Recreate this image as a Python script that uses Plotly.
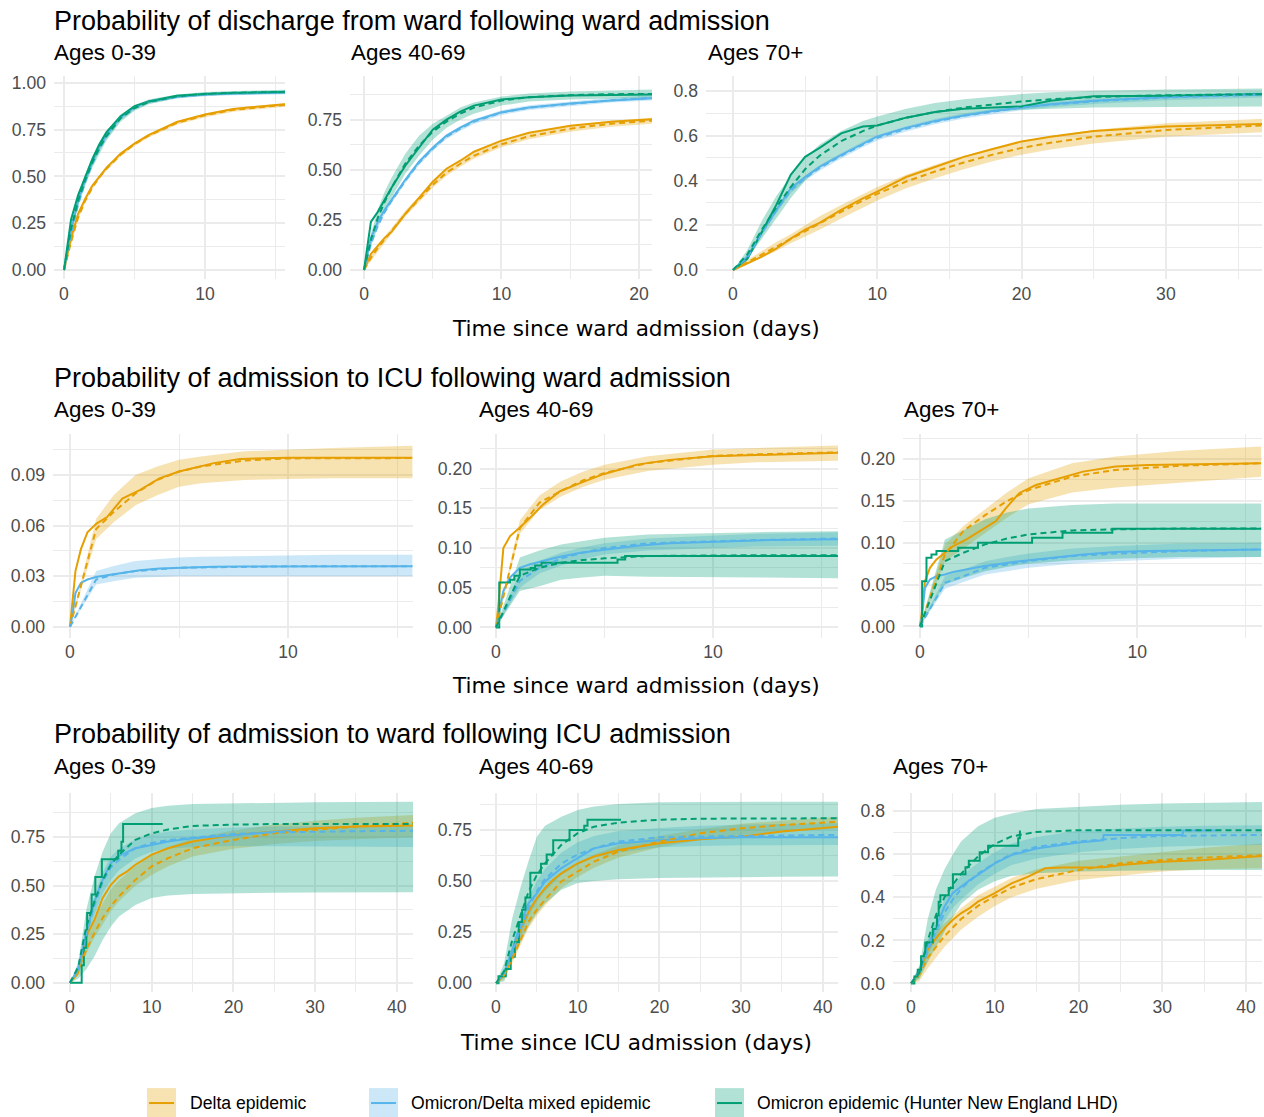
import plotly.graph_objects as go

# ---------------- colours ----------------
DELTA = "#E69F00"
MIXED = "#56B4E9"
OMI = "#009E73"
FILL = {DELTA: "rgba(230,159,0,0.3)", MIXED: "rgba(86,180,233,0.3)", OMI: "rgba(0,158,115,0.3)"}

# ---------------- text ----------------
row_titles = ["Probability of discharge from ward following ward admission",
              "Probability of admission to ICU following ward admission",
              "Probability of admission to ward following ICU admission"]
age_labels = ["Ages 0-39", "Ages 40-69", "Ages 70+"]
x_titles = ["Time since ward admission (days)", "Time since ward admission (days)",
            "Time since ICU admission (days)"]
legend_labels = ["Delta epidemic", "Omicron/Delta mixed epidemic",
                 "Omicron epidemic (Hunter New England LHD)"]

# ================= DATA =================
# ---- Row 1, discharge from ward, ages 0-39 ----
t_dis_a = [0, 0.5, 1, 1.5, 2, 2.5, 3, 4, 5, 6, 8, 10, 12, 15.7]
dis_a_delta_obs = [0, 0.17, 0.30, 0.38, 0.45, 0.50, 0.545, 0.62, 0.675, 0.72, 0.79, 0.83, 0.86, 0.885]
dis_a_delta_fit = [0, 0.15, 0.28, 0.37, 0.44, 0.495, 0.54, 0.615, 0.672, 0.717, 0.785, 0.826, 0.855, 0.882]
dis_a_delta_lo = [0, 0.14, 0.27, 0.36, 0.43, 0.485, 0.53, 0.605, 0.662, 0.707, 0.775, 0.816, 0.845, 0.872]
dis_a_delta_hi = [0, 0.16, 0.29, 0.38, 0.45, 0.505, 0.55, 0.625, 0.682, 0.727, 0.795, 0.836, 0.865, 0.892]
dis_a_mixed_obs = [0, 0.21, 0.37, 0.48, 0.575, 0.655, 0.72, 0.815, 0.87, 0.9, 0.925, 0.937, 0.942, 0.947]
dis_a_mixed_fit = [0, 0.19, 0.35, 0.47, 0.565, 0.645, 0.71, 0.81, 0.865, 0.897, 0.925, 0.937, 0.943, 0.948]
dis_a_mixed_lo = [0, 0.18, 0.34, 0.46, 0.555, 0.635, 0.70, 0.80, 0.855, 0.887, 0.915, 0.927, 0.933, 0.938]
dis_a_mixed_hi = [0, 0.20, 0.36, 0.48, 0.575, 0.655, 0.72, 0.82, 0.875, 0.907, 0.935, 0.947, 0.953, 0.958]
dis_a_omi_obs = [0, 0.27, 0.40, 0.50, 0.59, 0.67, 0.735, 0.82, 0.875, 0.9, 0.93, 0.94, 0.945, 0.95]
dis_a_omi_fit = [0, 0.22, 0.37, 0.48, 0.575, 0.65, 0.715, 0.81, 0.865, 0.897, 0.927, 0.94, 0.946, 0.951]
dis_a_omi_lo = [0, 0.19, 0.34, 0.45, 0.545, 0.62, 0.69, 0.79, 0.85, 0.885, 0.917, 0.93, 0.936, 0.94]
dis_a_omi_hi = [0, 0.25, 0.40, 0.51, 0.605, 0.68, 0.74, 0.83, 0.88, 0.91, 0.937, 0.95, 0.956, 0.962]

# ---- Row 1, discharge from ward, ages 40-69 ----
t_dis_b = [0, 0.5, 1, 1.5, 2, 3, 4, 5, 6, 7, 8, 10, 12, 15, 18, 20.95]
dis_b_delta_obs = [0, 0.08, 0.12, 0.16, 0.19, 0.28, 0.36, 0.44, 0.505, 0.545, 0.59, 0.645, 0.685, 0.72, 0.74, 0.752]
dis_b_delta_fit = [0, 0.06, 0.11, 0.155, 0.195, 0.28, 0.355, 0.425, 0.485, 0.53, 0.57, 0.627, 0.667, 0.705, 0.73, 0.745]
dis_b_delta_lo = [0, 0.045, 0.095, 0.14, 0.18, 0.265, 0.34, 0.41, 0.47, 0.515, 0.555, 0.612, 0.652, 0.69, 0.715, 0.73]
dis_b_delta_hi = [0, 0.075, 0.125, 0.17, 0.21, 0.295, 0.37, 0.44, 0.50, 0.545, 0.585, 0.642, 0.682, 0.72, 0.745, 0.76]
dis_b_mixed_obs = [0, 0.16, 0.24, 0.30, 0.35, 0.45, 0.54, 0.61, 0.67, 0.71, 0.745, 0.787, 0.81, 0.83, 0.845, 0.857]
dis_b_mixed_fit = [0, 0.13, 0.22, 0.29, 0.345, 0.445, 0.535, 0.605, 0.665, 0.705, 0.74, 0.785, 0.81, 0.83, 0.847, 0.858]
dis_b_mixed_lo = [0, 0.118, 0.208, 0.278, 0.333, 0.433, 0.523, 0.593, 0.653, 0.693, 0.728, 0.773, 0.798, 0.818, 0.835, 0.846]
dis_b_mixed_hi = [0, 0.142, 0.232, 0.302, 0.357, 0.457, 0.547, 0.617, 0.677, 0.717, 0.752, 0.797, 0.822, 0.842, 0.859, 0.87]
dis_b_omi_obs = [0, 0.24, 0.29, 0.35, 0.41, 0.52, 0.61, 0.70, 0.75, 0.79, 0.82, 0.85, 0.862, 0.87, 0.873, 0.875]
dis_b_omi_fit = [0, 0.15, 0.26, 0.34, 0.41, 0.53, 0.62, 0.69, 0.74, 0.78, 0.81, 0.845, 0.862, 0.872, 0.877, 0.878]
dis_b_omi_lo = [0, 0.12, 0.22, 0.30, 0.36, 0.48, 0.57, 0.65, 0.71, 0.75, 0.78, 0.82, 0.84, 0.85, 0.855, 0.855]
dis_b_omi_hi = [0, 0.18, 0.30, 0.39, 0.46, 0.58, 0.67, 0.73, 0.77, 0.81, 0.835, 0.865, 0.88, 0.89, 0.895, 0.9]

# ---- Row 1, discharge from ward, ages 70+ ----
t_dis_c = [0, 1, 2, 3, 4, 5, 6, 7.5, 9, 10, 12, 14, 16, 18, 20, 22, 25, 30, 36.7]
dis_c_delta_obs = [0, 0.03, 0.06, 0.095, 0.14, 0.18, 0.21, 0.268, 0.32, 0.35, 0.415, 0.46, 0.505, 0.54, 0.574, 0.595, 0.62, 0.64, 0.652]
dis_c_delta_fit = [0, 0.035, 0.07, 0.105, 0.14, 0.175, 0.21, 0.26, 0.31, 0.34, 0.395, 0.44, 0.48, 0.515, 0.545, 0.568, 0.595, 0.625, 0.645]
dis_c_delta_lo = [0, 0.025, 0.055, 0.085, 0.12, 0.15, 0.18, 0.23, 0.28, 0.31, 0.365, 0.41, 0.45, 0.485, 0.515, 0.538, 0.565, 0.595, 0.615]
dis_c_delta_hi = [0, 0.045, 0.085, 0.125, 0.16, 0.2, 0.24, 0.29, 0.34, 0.37, 0.425, 0.47, 0.51, 0.545, 0.575, 0.598, 0.625, 0.655, 0.675]
dis_c_mixed_obs = [0, 0.06, 0.17, 0.27, 0.365, 0.415, 0.46, 0.514, 0.565, 0.596, 0.635, 0.665, 0.69, 0.71, 0.725, 0.74, 0.755, 0.772, 0.785]
dis_c_mixed_fit = [0, 0.055, 0.165, 0.265, 0.355, 0.41, 0.455, 0.51, 0.56, 0.59, 0.63, 0.662, 0.688, 0.708, 0.725, 0.738, 0.753, 0.77, 0.782]
dis_c_mixed_lo = [0, 0.043, 0.153, 0.253, 0.343, 0.398, 0.443, 0.498, 0.548, 0.578, 0.618, 0.65, 0.676, 0.696, 0.713, 0.726, 0.741, 0.758, 0.77]
dis_c_mixed_hi = [0, 0.067, 0.177, 0.277, 0.367, 0.422, 0.467, 0.522, 0.572, 0.602, 0.642, 0.674, 0.70, 0.72, 0.737, 0.75, 0.765, 0.782, 0.794]
dis_c_omi_obs = [0, 0.05, 0.17, 0.29, 0.425, 0.505, 0.545, 0.61, 0.64, 0.645, 0.68, 0.705, 0.72, 0.725, 0.73, 0.755, 0.775, 0.778, 0.785]
dis_c_omi_fit = [0, 0.07, 0.18, 0.28, 0.37, 0.45, 0.51, 0.575, 0.62, 0.645, 0.68, 0.705, 0.725, 0.74, 0.752, 0.762, 0.772, 0.78, 0.785]
dis_c_omi_lo = [0, 0.05, 0.14, 0.23, 0.32, 0.40, 0.46, 0.52, 0.57, 0.60, 0.64, 0.67, 0.69, 0.705, 0.715, 0.72, 0.725, 0.728, 0.73]
dis_c_omi_hi = [0, 0.09, 0.22, 0.33, 0.42, 0.5, 0.56, 0.62, 0.665, 0.685, 0.72, 0.745, 0.762, 0.775, 0.785, 0.793, 0.8, 0.806, 0.81]

# ---- Row 2, ward -> ICU, ages 0-39 ----
t_icu_a_fit = [0, 1.2, 2, 3, 4, 5, 6, 8, 10, 12, 15.7]
t_icu_a_obs = [0, 0.1, 0.25, 0.5, 0.8, 1.2, 1.7, 2.4, 3.2, 4.1, 5, 6.6, 7.8, 10, 15.7]
icu_a_delta_obs = [0, 0.012, 0.033, 0.046, 0.056, 0.061, 0.065, 0.076, 0.081, 0.088, 0.092, 0.097, 0.0995, 0.1002, 0.1002]
icu_a_delta_fit = [0, 0.058, 0.068, 0.079, 0.087, 0.092, 0.095, 0.0985, 0.0998, 0.1, 0.1]
icu_a_delta_lo = [0, 0.052, 0.062, 0.072, 0.078, 0.083, 0.085, 0.087, 0.0876, 0.088, 0.088]
icu_a_delta_hi = [0, 0.064, 0.078, 0.09, 0.095, 0.099, 0.101, 0.104, 0.105, 0.106, 0.1073]
icu_a_mixed_obs = [0, 0.006, 0.02, 0.026, 0.028, 0.0295, 0.0305, 0.032, 0.0335, 0.0345, 0.035, 0.0355, 0.0357, 0.0358, 0.0358]
icu_a_mixed_fit = [0, 0.028, 0.031, 0.033, 0.034, 0.035, 0.0352, 0.0356, 0.0358, 0.0358, 0.0358]
icu_a_mixed_lo = [0, 0.025, 0.027, 0.029, 0.0295, 0.03, 0.03, 0.03, 0.03, 0.03, 0.03]
icu_a_mixed_hi = [0, 0.033, 0.036, 0.039, 0.040, 0.041, 0.0415, 0.042, 0.0425, 0.0427, 0.0427]

# ---- Row 2, ward -> ICU, ages 40-69 ----
t_icu_b_fit = [0, 1.1, 2, 3, 4, 5, 7, 10, 12, 15.8]
t_icu_b_obs = [0, 0.1, 0.34, 0.65, 1.1, 1.57, 2.18, 2.95, 3.9, 4.95, 6.5, 8, 10, 12.65, 15.8]
t_icu_b_omi_obs = [0, 0.15, 0.65, 0.85, 1.1, 1.6, 1.8, 2.1, 5.6, 5.95, 15.8]
icu_b_delta_obs = [0, 0.025, 0.10, 0.115, 0.126, 0.138, 0.155, 0.1715, 0.182, 0.193, 0.205, 0.211, 0.2155, 0.218, 0.22]
icu_b_delta_fit = [0, 0.125, 0.157, 0.172, 0.185, 0.1945, 0.207, 0.216, 0.218, 0.2205]
icu_b_delta_lo = [0, 0.118, 0.148, 0.165, 0.177, 0.186, 0.197, 0.205, 0.208, 0.21]
icu_b_delta_hi = [0, 0.135, 0.166, 0.184, 0.196, 0.205, 0.2155, 0.224, 0.226, 0.229]
icu_b_mixed_obs = [0, 0.0126, 0.046, 0.063, 0.075, 0.0795, 0.084, 0.089, 0.094, 0.098, 0.103, 0.106, 0.108, 0.11, 0.111]
icu_b_mixed_fit = [0, 0.0586, 0.075, 0.087, 0.094, 0.1, 0.106, 0.1085, 0.11, 0.112]
icu_b_mixed_lo = [0, 0.05, 0.068, 0.078, 0.086, 0.092, 0.097, 0.1, 0.102, 0.103]
icu_b_mixed_hi = [0, 0.07, 0.084, 0.094, 0.101, 0.106, 0.112, 0.116, 0.118, 0.12]
icu_b_omi_obs = [0, 0.0565, 0.060, 0.065, 0.073, 0.075, 0.078, 0.0816, 0.0855, 0.09, 0.09]
icu_b_omi_fit = [0, 0.065, 0.075, 0.0816, 0.085, 0.087, 0.09, 0.091, 0.091, 0.091]
icu_b_omi_lo = [0, 0.046, 0.052, 0.06, 0.063, 0.065, 0.064, 0.063, 0.0625, 0.062]
icu_b_omi_hi = [0, 0.088, 0.097, 0.1046, 0.109, 0.113, 0.117, 0.119, 0.12, 0.121]

# ---- Row 2, ward -> ICU, ages 70+ ----
t_icu_c_fit = [0, 1.15, 2, 3, 4, 5, 7, 9, 12, 15.7]
t_icu_c_obs = [0, 0.08, 0.23, 0.46, 0.76, 1.15, 1.53, 2.14, 2.9, 3.5, 3.97, 4.58, 5.34, 6.4, 7.5, 9, 10.5, 15.7]
t_icu_c_omi_obs = [0, 0.1, 0.3, 0.53, 0.76, 1.76, 2.67, 5.16, 6.56, 8.85, 15.7]
icu_c_delta_obs = [0, 0.015, 0.054, 0.07, 0.08, 0.088, 0.096, 0.104, 0.116, 0.126, 0.1417, 0.1595, 0.169, 0.177, 0.185, 0.191, 0.193, 0.195]
icu_c_delta_fit = [0, 0.086, 0.114, 0.133, 0.1496, 0.163, 0.179, 0.187, 0.192, 0.195]
icu_c_delta_lo = [0, 0.078, 0.093, 0.112, 0.13, 0.146, 0.16, 0.166, 0.172, 0.179]
icu_c_delta_hi = [0, 0.098, 0.12, 0.14, 0.16, 0.177, 0.195, 0.203, 0.21, 0.215]
icu_c_mixed_obs = [0, 0.01, 0.046, 0.056, 0.06, 0.062, 0.065, 0.068, 0.072, 0.074, 0.076, 0.078, 0.08, 0.083, 0.086, 0.089, 0.09, 0.092]
icu_c_mixed_fit = [0, 0.052, 0.06, 0.07, 0.074, 0.078, 0.084, 0.087, 0.09, 0.092]
icu_c_mixed_lo = [0, 0.045, 0.053, 0.062, 0.066, 0.07, 0.075, 0.078, 0.081, 0.083]
icu_c_mixed_hi = [0, 0.06, 0.068, 0.078, 0.083, 0.087, 0.093, 0.096, 0.099, 0.1]
icu_c_omi_obs = [0, 0.054, 0.082, 0.086, 0.09, 0.094, 0.1, 0.106, 0.112, 0.1167, 0.1167]
icu_c_omi_fit = [0, 0.078, 0.088, 0.098, 0.105, 0.11, 0.1147, 0.116, 0.117, 0.117]
icu_c_omi_lo = [0, 0.05, 0.058, 0.066, 0.071, 0.075, 0.079, 0.081, 0.083, 0.083]
icu_c_omi_hi = [0, 0.104, 0.115, 0.128, 0.136, 0.141, 0.145, 0.147, 0.147, 0.147]

# ---- Row 3, ICU -> ward, ages 0-39 ----
t_wrd_a_fit = [0, 1, 2, 3, 4, 5, 6, 8, 10, 12, 15, 20, 25, 30, 35, 42]
t_wrd_a_obs = [0, 1, 2, 3, 4, 5, 6, 7, 8, 10, 12, 15, 20, 25, 30, 35, 42]
t_wrd_a_mixed_obs = [0, 1, 2, 3, 4, 5, 6, 8, 10, 12, 15, 20, 25, 27]
t_wrd_a_omi_obs = [0, 1.43, 1.7, 2.0, 2.1, 2.65, 3.1, 3.9, 5.9, 6.3, 6.5, 11.35]
wrd_a_delta_obs = [0, 0.05, 0.24, 0.325, 0.437, 0.505, 0.548, 0.574, 0.608, 0.66, 0.693, 0.728, 0.762, 0.779, 0.796, 0.805, 0.81]
wrd_a_delta_fit = [0, 0.07, 0.17, 0.257, 0.334, 0.395, 0.445, 0.53, 0.6, 0.642, 0.693, 0.736, 0.77, 0.788, 0.805, 0.825]
wrd_a_delta_lo = [0, 0.04, 0.15, 0.235, 0.30, 0.37, 0.42, 0.5, 0.555, 0.6, 0.65, 0.69, 0.715, 0.73, 0.74, 0.75]
wrd_a_delta_hi = [0, 0.09, 0.23, 0.33, 0.41, 0.48, 0.53, 0.6, 0.66, 0.7, 0.745, 0.785, 0.815, 0.835, 0.85, 0.865]
wrd_a_mixed_obs = [0, 0.068, 0.257, 0.42, 0.53, 0.616, 0.654, 0.693, 0.71, 0.728, 0.745, 0.762, 0.779, 0.783]
wrd_a_mixed_fit = [0, 0.07, 0.25, 0.4, 0.52, 0.595, 0.634, 0.693, 0.72, 0.735, 0.748, 0.767, 0.775, 0.779, 0.781, 0.783]
wrd_a_mixed_lo = [0, 0.04, 0.21, 0.35, 0.46, 0.53, 0.58, 0.64, 0.675, 0.69, 0.7, 0.705, 0.703, 0.702, 0.701, 0.70]
wrd_a_mixed_hi = [0, 0.1, 0.3, 0.45, 0.57, 0.65, 0.69, 0.74, 0.765, 0.78, 0.79, 0.8, 0.805, 0.807, 0.808, 0.81]
wrd_a_omi_obs = [0, 0.09, 0.18, 0.27, 0.36, 0.455, 0.545, 0.636, 0.68, 0.727, 0.818, 0.818]
wrd_a_omi_fit = [0, 0.08, 0.29, 0.42, 0.53, 0.608, 0.66, 0.736, 0.77, 0.79, 0.808, 0.815, 0.818, 0.818, 0.818, 0.818]
wrd_a_omi_lo = [0, 0.02, 0.07, 0.137, 0.22, 0.29, 0.342, 0.40, 0.437, 0.45, 0.457, 0.462, 0.464, 0.465, 0.466, 0.466]
wrd_a_omi_hi = [0, 0.1, 0.377, 0.548, 0.676, 0.77, 0.822, 0.873, 0.9, 0.912, 0.921, 0.925, 0.928, 0.93, 0.932, 0.933]

# ---- Row 3, ICU -> ward, ages 40-69 ----
t_wrd_b_fit = [0, 1, 2, 3, 4, 5, 6, 8, 10, 12, 15, 20, 25, 30, 35, 42]
t_wrd_b_obs = [0, 1, 2, 3, 4, 5, 6, 7, 8, 10, 12, 15, 20, 25, 30, 35, 42]
t_wrd_b_omi_obs = [0, 0.3, 1.2, 1.8, 2.3, 2.8, 3.2, 3.6, 4.2, 5.5, 6.2, 7.0, 9.0, 10.8, 11.2, 15.3]
wrd_b_delta_obs = [0, 0.04, 0.148, 0.262, 0.351, 0.416, 0.465, 0.506, 0.538, 0.587, 0.62, 0.652, 0.685, 0.704, 0.717, 0.742, 0.766]
wrd_b_delta_fit = [0, 0.04, 0.12, 0.21, 0.303, 0.36, 0.408, 0.498, 0.547, 0.595, 0.644, 0.693, 0.734, 0.758, 0.774, 0.79]
wrd_b_delta_lo = [0, 0.02, 0.1, 0.185, 0.27, 0.33, 0.38, 0.465, 0.52, 0.565, 0.615, 0.665, 0.7, 0.725, 0.742, 0.758]
wrd_b_delta_hi = [0, 0.06, 0.16, 0.27, 0.36, 0.42, 0.47, 0.545, 0.59, 0.63, 0.675, 0.72, 0.755, 0.78, 0.795, 0.815]
wrd_b_mixed_obs = [0, 0.05, 0.164, 0.294, 0.392, 0.44, 0.498, 0.53, 0.563, 0.612, 0.66, 0.685, 0.70, 0.709, 0.714, 0.714, 0.714]
wrd_b_mixed_fit = [0, 0.05, 0.15, 0.27, 0.37, 0.45, 0.51, 0.585, 0.63, 0.66, 0.693, 0.714, 0.718, 0.72, 0.723, 0.726]
wrd_b_mixed_lo = [0, 0.03, 0.12, 0.23, 0.33, 0.40, 0.45, 0.53, 0.58, 0.615, 0.64, 0.665, 0.672, 0.675, 0.676, 0.677]
wrd_b_mixed_hi = [0, 0.07, 0.19, 0.31, 0.42, 0.50, 0.56, 0.64, 0.69, 0.72, 0.745, 0.76, 0.77, 0.776, 0.78, 0.783]
wrd_b_omi_obs = [0, 0.034, 0.07, 0.13, 0.2, 0.3, 0.36, 0.42, 0.54, 0.585, 0.63, 0.70, 0.75, 0.77, 0.80, 0.80]
wrd_b_omi_fit = [0, 0.06, 0.213, 0.327, 0.45, 0.53, 0.587, 0.677, 0.734, 0.766, 0.786, 0.8, 0.805, 0.806, 0.807, 0.807]
wrd_b_omi_lo = [0, 0.01, 0.12, 0.2, 0.28, 0.343, 0.39, 0.457, 0.49, 0.5, 0.509, 0.515, 0.518, 0.52, 0.521, 0.522]
wrd_b_omi_hi = [0, 0.1, 0.32, 0.47, 0.6, 0.717, 0.77, 0.815, 0.848, 0.865, 0.877, 0.885, 0.887, 0.888, 0.888, 0.888]

# ---- Row 3, ICU -> ward, ages 70+ ----
t_wrd_c_fit = [0, 1, 2, 3, 4, 5, 6, 8, 10, 12, 15, 20, 25, 30, 35, 42]
t_wrd_c_obs = [0, 1, 2, 3, 4, 5, 6, 7, 8, 10, 12, 14, 16, 18, 20, 23, 25, 30, 35, 42]
t_wrd_c_mixed_obs = [0, 1, 2, 3, 4, 5, 6, 7, 8, 10, 12, 15, 20, 22.9, 23, 32.4, 32.5, 36.5]
t_wrd_c_omi_obs = [0, 0.4, 0.8, 1.2, 1.7, 2.6, 3.1, 3.3, 3.5, 4.5, 5.0, 6.5, 6.9, 8.2, 9.2, 12.8, 13.0]
wrd_c_delta_obs = [0, 0.05, 0.157, 0.211, 0.257, 0.296, 0.327, 0.35, 0.38, 0.42, 0.465, 0.496, 0.535, 0.539, 0.539, 0.54, 0.55, 0.565, 0.573, 0.592]
wrd_c_delta_fit = [0, 0.04, 0.12, 0.17, 0.22, 0.26, 0.3, 0.36, 0.405, 0.445, 0.485, 0.527, 0.558, 0.573, 0.585, 0.596]
wrd_c_delta_lo = [0, 0.01, 0.07, 0.12, 0.17, 0.21, 0.25, 0.31, 0.36, 0.40, 0.44, 0.48, 0.5, 0.52, 0.53, 0.535]
wrd_c_delta_hi = [0, 0.08, 0.2, 0.245, 0.28, 0.315, 0.35, 0.41, 0.45, 0.49, 0.53, 0.57, 0.59, 0.61, 0.63, 0.65]
wrd_c_mixed_obs = [0, 0.06, 0.173, 0.265, 0.357, 0.42, 0.45, 0.48, 0.504, 0.558, 0.596, 0.627, 0.655, 0.665, 0.69, 0.69, 0.71, 0.71]
wrd_c_mixed_fit = [0, 0.05, 0.15, 0.24, 0.33, 0.39, 0.44, 0.51, 0.56, 0.6, 0.635, 0.66, 0.675, 0.685, 0.688, 0.69]
wrd_c_mixed_lo = [0, 0.03, 0.13, 0.21, 0.29, 0.35, 0.39, 0.46, 0.51, 0.55, 0.58, 0.61, 0.625, 0.635, 0.64, 0.643]
wrd_c_mixed_hi = [0, 0.08, 0.2, 0.3, 0.39, 0.45, 0.5, 0.56, 0.61, 0.65, 0.68, 0.71, 0.72, 0.728, 0.732, 0.735]
wrd_c_omi_obs = [0, 0.032, 0.063, 0.126, 0.19, 0.253, 0.316, 0.38, 0.41, 0.443, 0.507, 0.54, 0.57, 0.61, 0.64, 0.675, 0.71]
wrd_c_omi_fit = [0, 0.05, 0.2, 0.32, 0.4, 0.46, 0.51, 0.59, 0.648, 0.683, 0.704, 0.712, 0.712, 0.712, 0.712, 0.712]
wrd_c_omi_lo = [0, 0.02, 0.1, 0.17, 0.24, 0.31, 0.37, 0.435, 0.475, 0.5, 0.512, 0.52, 0.524, 0.526, 0.527, 0.527]
wrd_c_omi_hi = [0, 0.08, 0.3, 0.44, 0.53, 0.6, 0.66, 0.73, 0.77, 0.79, 0.81, 0.82, 0.83, 0.836, 0.84, 0.843]

# ================= LAYOUT (pixel geometry) =================
W, H = 1264, 1117
FONT = "Liberation Sans, Arial, Helvetica, sans-serif"
FONT2 = "DejaVu Sans, Verdana, sans-serif"
TICK_COLOR = "#4D4D4D"
GRID = "#EBEBEB"

# (x0, x1, ytop, ybottom) in pixels, x range, y range, x dtick, y dtick, y format
panel_geom = [
    ((54, 285, 73, 277), (-0.71, 15.67), (-0.048, 1.037), 10, 0.25, ".2f"),
    ((350, 652, 73, 277), (-1.02, 20.95), (-0.045, 0.969), 10, 0.25, ".2f"),
    ((706, 1262, 73, 277), (-1.87, 36.66), (-0.04, 0.867), 10, 0.2, ".1f"),
    ((53, 413, 433, 637), (-0.78, 15.73), (-0.0065, 0.114), 10, 0.03, ".2f"),
    ((480, 838, 433, 637), (-0.737, 15.76), (-0.0129, 0.243), 10, 0.05, ".2f"),
    ((903, 1262, 433, 637), (-0.78, 15.74), (-0.0135, 0.2294), 10, 0.05, ".2f"),
    ((53, 413, 793, 993), (-2.08, 41.98), (-0.05, 0.977), 10, 0.25, ".2f"),
    ((480, 838, 793, 993), (-1.96, 41.86), (-0.045, 0.930), 10, 0.25, ".2f"),
    ((893, 1262, 793, 993), (-2.15, 41.9), (-0.042, 0.884), 10, 0.2, ".1f"),
]

fig = go.Figure()


def axes_ref(i):
    s = "" if i == 0 else str(i + 1)
    return "x" + s, "y" + s


def add_band(i, t, lo, hi, color):
    xa, ya = axes_ref(i)
    fig.add_trace(go.Scatter(x=t, y=lo, mode="lines", line=dict(width=0, color=color),
                             xaxis=xa, yaxis=ya, showlegend=False, hoverinfo="skip"))
    fig.add_trace(go.Scatter(x=t, y=hi, mode="lines", line=dict(width=0, color=color),
                             fill="tonexty", fillcolor=FILL[color],
                             xaxis=xa, yaxis=ya, showlegend=False, hoverinfo="skip"))


def add_line(i, t, y, color, dashed=False, step=False):
    xa, ya = axes_ref(i)
    fig.add_trace(go.Scatter(x=t, y=y, mode="lines",
                             line=dict(color=color, width=2,
                                       dash="6px,4px" if dashed else "solid",
                                       shape="hv" if step else "linear"),
                             xaxis=xa, yaxis=ya, showlegend=False))


# panel contents: list of series (color, t_obs, obs, t_fit, fit, lo, hi, step)
panels = [
    [(DELTA, t_dis_a, dis_a_delta_obs, t_dis_a, dis_a_delta_fit, dis_a_delta_lo, dis_a_delta_hi, False),
     (MIXED, t_dis_a, dis_a_mixed_obs, t_dis_a, dis_a_mixed_fit, dis_a_mixed_lo, dis_a_mixed_hi, False),
     (OMI, t_dis_a, dis_a_omi_obs, t_dis_a, dis_a_omi_fit, dis_a_omi_lo, dis_a_omi_hi, False)],
    [(DELTA, t_dis_b, dis_b_delta_obs, t_dis_b, dis_b_delta_fit, dis_b_delta_lo, dis_b_delta_hi, False),
     (MIXED, t_dis_b, dis_b_mixed_obs, t_dis_b, dis_b_mixed_fit, dis_b_mixed_lo, dis_b_mixed_hi, False),
     (OMI, t_dis_b, dis_b_omi_obs, t_dis_b, dis_b_omi_fit, dis_b_omi_lo, dis_b_omi_hi, False)],
    [(DELTA, t_dis_c, dis_c_delta_obs, t_dis_c, dis_c_delta_fit, dis_c_delta_lo, dis_c_delta_hi, False),
     (MIXED, t_dis_c, dis_c_mixed_obs, t_dis_c, dis_c_mixed_fit, dis_c_mixed_lo, dis_c_mixed_hi, False),
     (OMI, t_dis_c, dis_c_omi_obs, t_dis_c, dis_c_omi_fit, dis_c_omi_lo, dis_c_omi_hi, False)],
    [(DELTA, t_icu_a_obs, icu_a_delta_obs, t_icu_a_fit, icu_a_delta_fit, icu_a_delta_lo, icu_a_delta_hi, False),
     (MIXED, t_icu_a_obs, icu_a_mixed_obs, t_icu_a_fit, icu_a_mixed_fit, icu_a_mixed_lo, icu_a_mixed_hi, False)],
    [(DELTA, t_icu_b_obs, icu_b_delta_obs, t_icu_b_fit, icu_b_delta_fit, icu_b_delta_lo, icu_b_delta_hi, False),
     (MIXED, t_icu_b_obs, icu_b_mixed_obs, t_icu_b_fit, icu_b_mixed_fit, icu_b_mixed_lo, icu_b_mixed_hi, False),
     (OMI, t_icu_b_omi_obs, icu_b_omi_obs, t_icu_b_fit, icu_b_omi_fit, icu_b_omi_lo, icu_b_omi_hi, True)],
    [(DELTA, t_icu_c_obs, icu_c_delta_obs, t_icu_c_fit, icu_c_delta_fit, icu_c_delta_lo, icu_c_delta_hi, False),
     (MIXED, t_icu_c_obs, icu_c_mixed_obs, t_icu_c_fit, icu_c_mixed_fit, icu_c_mixed_lo, icu_c_mixed_hi, False),
     (OMI, t_icu_c_omi_obs, icu_c_omi_obs, t_icu_c_fit, icu_c_omi_fit, icu_c_omi_lo, icu_c_omi_hi, True)],
    [(DELTA, t_wrd_a_obs, wrd_a_delta_obs, t_wrd_a_fit, wrd_a_delta_fit, wrd_a_delta_lo, wrd_a_delta_hi, False),
     (MIXED, t_wrd_a_mixed_obs, wrd_a_mixed_obs, t_wrd_a_fit, wrd_a_mixed_fit, wrd_a_mixed_lo, wrd_a_mixed_hi, False),
     (OMI, t_wrd_a_omi_obs, wrd_a_omi_obs, t_wrd_a_fit, wrd_a_omi_fit, wrd_a_omi_lo, wrd_a_omi_hi, True)],
    [(DELTA, t_wrd_b_obs, wrd_b_delta_obs, t_wrd_b_fit, wrd_b_delta_fit, wrd_b_delta_lo, wrd_b_delta_hi, False),
     (MIXED, t_wrd_b_obs, wrd_b_mixed_obs, t_wrd_b_fit, wrd_b_mixed_fit, wrd_b_mixed_lo, wrd_b_mixed_hi, False),
     (OMI, t_wrd_b_omi_obs, wrd_b_omi_obs, t_wrd_b_fit, wrd_b_omi_fit, wrd_b_omi_lo, wrd_b_omi_hi, True)],
    [(DELTA, t_wrd_c_obs, wrd_c_delta_obs, t_wrd_c_fit, wrd_c_delta_fit, wrd_c_delta_lo, wrd_c_delta_hi, False),
     (MIXED, t_wrd_c_mixed_obs, wrd_c_mixed_obs, t_wrd_c_fit, wrd_c_mixed_fit, wrd_c_mixed_lo, wrd_c_mixed_hi, False),
     (OMI, t_wrd_c_omi_obs, wrd_c_omi_obs, t_wrd_c_fit, wrd_c_omi_fit, wrd_c_omi_lo, wrd_c_omi_hi, True)],
]

for i, series in enumerate(panels):
    for (c, to, yo, tf, yf, lo, hi, st) in series:
        add_band(i, tf, lo, hi, c)
    for (c, to, yo, tf, yf, lo, hi, st) in series:
        add_line(i, to, yo, c, dashed=False, step=st)
    for (c, to, yo, tf, yf, lo, hi, st) in series:
        add_line(i, tf, yf, c, dashed=True)

layout = dict(width=W, height=H, margin=dict(l=0, r=0, t=0, b=0),
              paper_bgcolor="white", plot_bgcolor="white", showlegend=False)

for i, (box, xr, yr, xd, yd, yf) in enumerate(panel_geom):
    x0, x1, yt, yb = box
    s = "" if i == 0 else str(i + 1)
    xa, ya = axes_ref(i)
    common = dict(showline=False, zeroline=False, ticks="", showgrid=True,
                  gridcolor=GRID, gridwidth=2,
                  tickfont=dict(family=FONT, size=17.6, color=TICK_COLOR))
    layout["xaxis" + s] = dict(domain=[x0 / W, x1 / W], range=list(xr), anchor=ya,
                               tick0=0, dtick=xd, ticklabelstandoff=2,
                               minor=dict(dtick=xd / 2, tick0=0, showgrid=True, gridcolor=GRID, gridwidth=1),
                               **common)
    layout["yaxis" + s] = dict(domain=[1 - yb / H, 1 - yt / H], range=list(yr), anchor=xa,
                               tick0=0, dtick=yd, tickformat=yf, ticklabelstandoff=7,
                               minor=dict(dtick=yd / 2, tick0=0, showgrid=True, gridcolor=GRID, gridwidth=1),
                               **common)

fig.update_layout(**layout)

# ---------------- text annotations ----------------
ann = []
title_y = [18, 376, 734]
sub_y = [50, 408, 766]
sub_x = [[52, 349, 706], [52, 477, 902], [52, 477, 891]]
xt_y = [327, 685, 1043]
for r in range(3):
    ann.append(dict(x=52 / W, y=1 - title_y[r] / H, xref="paper", yref="paper",
                    text=row_titles[r], showarrow=False, xanchor="left", yanchor="middle",
                    font=dict(family=FONT, size=27, color="black")))
    for c in range(3):
        ann.append(dict(x=sub_x[r][c] / W, y=1 - sub_y[r] / H, xref="paper", yref="paper",
                        text=age_labels[c], showarrow=False, xanchor="left", yanchor="middle",
                        font=dict(family=FONT, size=22.4, color="black")))
    ann.append(dict(x=636 / W, y=1 - xt_y[r] / H, xref="paper", yref="paper",
                    text=x_titles[r], showarrow=False, xanchor="center", yanchor="middle",
                    font=dict(family=FONT2, size=21.6, color="black")))

# ---------------- manual legend (ggplot-style keys) ----------------
shapes = []
leg_cols = [DELTA, MIXED, OMI]
key_x = [147, 369, 715]
text_x = [188, 409, 755]
for k in range(3):
    shapes.append(dict(type="rect", xref="paper", yref="paper",
                       x0=key_x[k] / W, x1=(key_x[k] + 29) / W,
                       y0=1 - 1118 / H, y1=1 - 1089 / H,
                       fillcolor=FILL[leg_cols[k]], line=dict(width=0)))
    shapes.append(dict(type="line", xref="paper", yref="paper",
                       x0=(key_x[k] + 2) / W, x1=(key_x[k] + 27) / W,
                       y0=1 - 1104 / H, y1=1 - 1104 / H,
                       line=dict(color=leg_cols[k], width=2)))
    ann.append(dict(x=text_x[k] / W, y=1 - 1104 / H, xref="paper", yref="paper",
                    text=legend_labels[k], showarrow=False, xanchor="left", yanchor="middle",
                    font=dict(family=FONT, size=17.6, color="black")))

fig.update_layout(annotations=ann, shapes=shapes)
fig.write_html("out.html", config={"displayModeBar": False},
               post_script="document.body.style.margin='0px';document.body.style.overflow='hidden';")
